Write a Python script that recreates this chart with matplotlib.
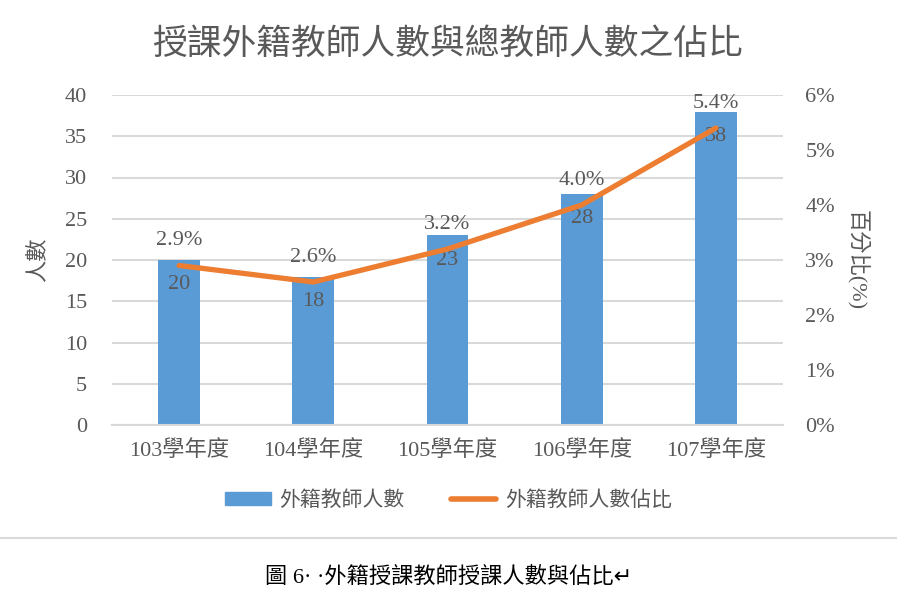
import numpy as np
import matplotlib.pyplot as plt
from matplotlib.lines import Line2D

plt.rcParams['font.family'] = ['Liberation Serif', 'Noto Sans CJK TC', 'DejaVu Sans']

years = ['103學年度', '104學年度', '105學年度', '106學年度', '107學年度']
teachers = [20, 18, 23, 28, 38]
ratio = [2.9, 2.6, 3.2, 4.0, 5.4]

blue = '#5B9BD5'
orange = '#ED7D31'
gray = '#595959'
grid = '#D9D9D9'

fig = plt.figure(figsize=(8.97, 5.98), dpi=100)
ax = fig.add_axes([112/897, 173/598, 671/897, 330/598])
x = np.arange(len(years))

ax.bar(x, teachers, width=0.31, color=blue, zorder=2, label='外籍教師人數')
ax.set_ylim(0, 40)
ax.set_xlim(-0.5, len(years) - 0.5)
ax.set_yticks(range(0, 41, 5))
ax.set_xticks(x)
ax.set_xticklabels(years)
ax.yaxis.grid(True, color=grid, linewidth=1.5, zorder=0)
ax.set_axisbelow(True)
for s in ['top', 'left', 'right']:
    ax.spines[s].set_visible(False)
ax.spines['bottom'].set_color(grid)
ax.spines['bottom'].set_linewidth(1.5)
ax.tick_params(axis='both', length=0, labelsize=16, labelcolor=gray)
ax.tick_params(axis='y', pad=18)
ax.tick_params(axis='x', pad=11)
ax.set_ylabel('人數', fontsize=16, color=gray, labelpad=12)

for xi, v in zip(x, teachers):
    ax.annotate(str(v), (xi, v), xytext=(0, -11), textcoords='offset points',
                ha='center', va='top', fontsize=16, color=gray, zorder=4)

ax2 = ax.twinx()
ax2.plot(x, ratio, color=orange, linewidth=3.8, solid_capstyle='round',
         zorder=3, label='外籍教師人數佔比')
ax2.set_ylim(0, 6)
ax2.set_yticks(range(0, 7))
ax2.set_yticklabels([f'{i}%' for i in range(0, 7)])
for s in ['top', 'left', 'right', 'bottom']:
    ax2.spines[s].set_visible(False)
ax2.tick_params(axis='y', length=0, labelsize=16, labelcolor=gray, pad=16)
ax2.set_ylabel('百分比(%)', fontsize=16, color=gray, rotation=270, labelpad=24)

for xi, v in zip(x, ratio):
    ax2.annotate(f'{v:.1f}%', (xi, v), xytext=(0, 11), textcoords='offset points',
                 ha='center', va='bottom', fontsize=16, color=gray)

fig.text(0.5, 1 - 45/598, '授課外籍教師人數與總教師人數之佔比', ha='center', va='center',
         fontsize=25, color=gray)

handles = [plt.Rectangle((0, 0), 1, 1, color=blue),
           Line2D([0], [0], color=orange, linewidth=4, solid_capstyle='round')]
fig.legend(handles, ['外籍教師人數', '外籍教師人數佔比'], loc='center',
           bbox_to_anchor=(0.5, 1 - 501/598), ncol=2, frameon=False,
           fontsize=15, labelcolor=gray, handlelength=2.2, handleheight=0.6,
           columnspacing=2.2, handletextpad=0.4)

fig.add_artist(Line2D([0, 1], [1 - 538/598, 1 - 538/598], color=grid, linewidth=1.5,
                      transform=fig.transFigure))

fig.text(0.5, 1 - 577/598, '圖 6· ·外籍授課教師授課人數與佔比↵', ha='center', va='center',
         fontsize=16, color='black')

fig.savefig('out.png', dpi=100)
